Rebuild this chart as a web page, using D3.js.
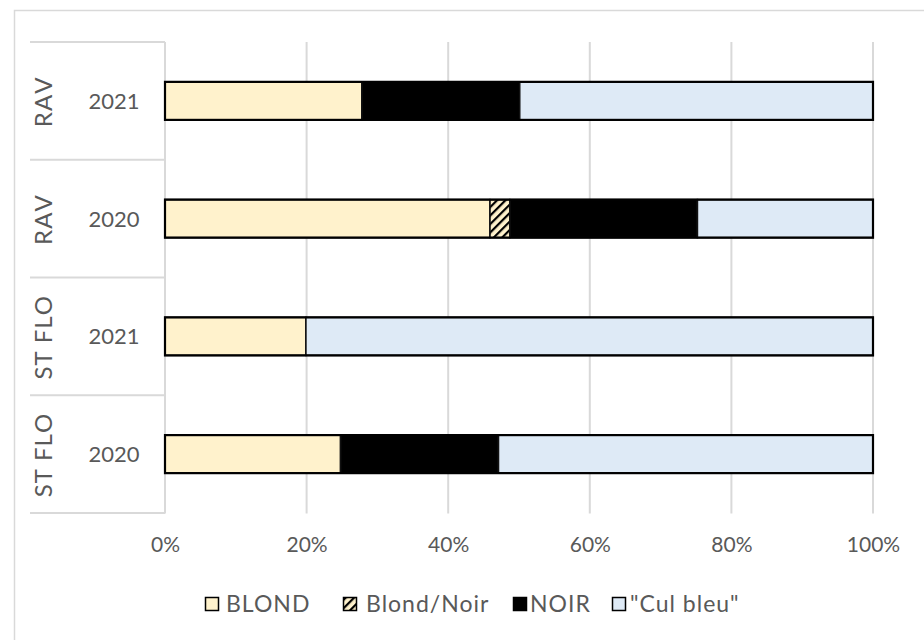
<!DOCTYPE html>
<html>
<head>
<meta charset="utf-8">
<script src="https://cdn.jsdelivr.net/npm/d3@7"></script>
<style>
  html, body { margin: 0; padding: 0; background: #fff; }
  svg { display: block; }
  text { font-family: Lato, "Open Sans", sans-serif; fill: #595959; }
</style>
</head>
<body>
<script>
// ---- data ----
const groups = ["RAV", "RAV", "ST FLO", "ST FLO"];
const years = ["2021", "2020", "2021", "2020"];
const seriesNames = ["BLOND", "Blond/Noir", "NOIR", "\"Cul bleu\""];
const blond = [27.8, 45.9, 19.9, 24.8];
const blondNoir = [0, 2.8, 0, 0];
const noir = [22.3, 26.5, 0, 22.3];
const culBleu = [49.9, 24.8, 80.1, 52.9];
const xTicks = [0, 0.2, 0.4, 0.6, 0.8, 1.0];

const W = 924, H = 640;
const svg = d3.select("body").append("svg").attr("width", W).attr("height", H);

// hatch pattern
const defs = svg.append("defs");
const pat = defs.append("pattern").attr("id", "hatch").attr("patternUnits", "userSpaceOnUse")
  .attr("width", 6).attr("height", 6).attr("patternTransform", "rotate(45)");
pat.append("rect").attr("width", 6).attr("height", 6).attr("fill", "#FFF2CC");
pat.append("rect").attr("x", 0).attr("width", 2.2).attr("height", 6).attr("fill", "#000");

const fills = ["#FFF2CC", "url(#hatch)", "#000000", "#DEEAF6"];

// chart border
svg.append("rect").attr("x", 14.5).attr("y", 10.5).attr("width", W + 20).attr("height", H + 20)
  .attr("fill", "none").attr("stroke", "#d9d9d9").attr("stroke-width", 1.5);

const rows = years.map((y, i) => ({ key: i, group: groups[i], year: y }));
const x = d3.scaleLinear().domain([0, 1]).range([165, 873]);
const yb = d3.scaleBand().domain(rows.map(r => r.key)).range([42, 513])
  .paddingInner(0.677).paddingOuter(0.3385);
const step = yb.step();

// gridlines
svg.append("g").selectAll("line").data(xTicks).join("line")
  .attr("x1", d => x(d)).attr("x2", d => x(d))
  .attr("y1", 42).attr("y2", 513.5)
  .attr("stroke", "#d9d9d9").attr("stroke-width", 2);

// category separators
const seps = d3.range(rows.length + 1);
svg.append("g").selectAll("line").data(seps).join("line")
  .attr("x1", 30).attr("x2", x(0))
  .attr("y1", d => 42 + d * step).attr("y2", d => 42 + d * step)
  .attr("stroke", "#d9d9d9").attr("stroke-width", 2);

// x axis tick labels
const xAxis = d3.axisBottom(x).tickValues(xTicks).tickFormat(d3.format(".0%")).tickSize(0).tickPadding(0);
const gx = svg.append("g").attr("transform", "translate(0,537)").call(xAxis);
gx.select(".domain").remove();
gx.selectAll("text").attr("font-size", 21).attr("font-family", "Lato, sans-serif").attr("fill", "#595959").attr("dy", "0.71em");

// y labels
const bandCenter = d => 42 + (d + 0.5) * step;
svg.append("g").selectAll("text").data(rows).join("text")
  .attr("x", 114).attr("y", d => bandCenter(d.key)).attr("dy", "0.36em")
  .attr("text-anchor", "middle").attr("font-size", 22).text(d => d.year);
svg.append("g").selectAll("text").data(rows).join("text")
  .attr("transform", d => `translate(52,${bandCenter(d.key) + 1}) rotate(-90)`)
  .attr("text-anchor", "middle").attr("font-size", 24)
  .style("letter-spacing", "1px").style("font-kerning", "none")
  .text(d => d.group);

// stacked bars
const series = [blond, blondNoir, noir, culBleu];
const table = rows.map((r, i) => {
  const o = { key: r.key };
  seriesNames.forEach((s, j) => o[s] = series[j][i] / 100);
  return o;
});
const stack = d3.stack().keys(seriesNames)(table);
svg.append("g").selectAll("g").data(stack).join("g")
  .attr("fill", (d, i) => fills[i])
  .selectAll("rect").data(d => d.filter(p => p[1] - p[0] > 0)).join("rect")
  .attr("x", d => x(d[0])).attr("width", d => x(d[1]) - x(d[0]))
  .attr("y", d => yb(d.data.key)).attr("height", yb.bandwidth())
  .attr("stroke", "#111").attr("stroke-width", 1.6);

// outer bar outlines
svg.append("g").selectAll("rect").data(table).join("rect")
  .attr("x", x(0)).attr("width", x(1) - x(0))
  .attr("y", d => yb(d.key)).attr("height", yb.bandwidth())
  .attr("fill", "none").attr("stroke", "#000").attr("stroke-width", 2.2);

// legend
const legSw = [205, 343, 513, 612];
const legTx = [226, 366, 530, 630];
const lg = svg.append("g").selectAll("g").data(seriesNames).join("g");
lg.append("rect").attr("x", (d, i) => legSw[i] + 0.5).attr("y", 597.5).attr("width", 13).attr("height", 13)
  .attr("fill", (d, i) => fills[i]).attr("stroke", "#000").attr("stroke-width", 1.5);
lg.append("text").attr("x", (d, i) => legTx[i]).attr("y", 604).attr("dy", "0.36em")
  .attr("font-size", 23).style("letter-spacing", "1px").text(d => d);
</script>
</body>
</html>
